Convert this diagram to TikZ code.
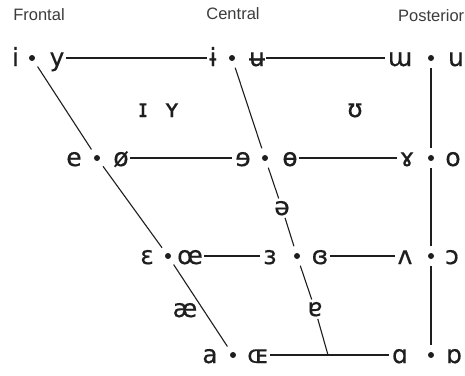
\documentclass[tikz,border=0pt]{standalone}
\usepackage{fontspec}
\newfontfamily\ipafont[FakeBold=0.5]{DejaVu Sans}
\newfontfamily\labfont{Liberation Sans}
\definecolor{ink}{HTML}{1E1E1E}
\definecolor{labgray}{HTML}{3C3C3C}
\begin{document}
\begin{tikzpicture}[x=1pt,y=-1pt,
  ipa/.style={font=\ipafont\fontsize{25}{29}\selectfont, text=ink, inner sep=0pt, outer sep=0pt, anchor=base},
  mid/.style={ipa, inner sep=2.5pt},
  dotnode/.style={circle, fill=ink, inner sep=0pt, minimum size=6pt},
  lab/.style={font=\labfont\fontsize{16.5}{19}\selectfont, text=labgray, inner sep=0pt, anchor=base},
  ln/.style={draw=ink, line width=1.1pt},
  seg/.style={ln, shorten <=7pt, shorten >=7pt},
  hseg/.style={ln, shorten <=1.5pt, shorten >=3pt}]
\useasboundingbox (0,0) rectangle (465,375);
\fill[white] (0,0) rectangle (465,375);
% column labels
\node[lab] (lf) at (39,20) {Frontal};
\node[lab] (lc) at (233,19) {Central};
\node[lab, anchor=base west] (lp) at (398,21) {Posterior};
% row 1
\node[ipa] (i1) at (15.5,66) {i};
\node[dotnode] (b11) at (32,58) {};
\node[ipa] (y1) at (57,66) {y};
\node[ipa] (ib) at (213,66) {ɨ};
\node[dotnode] (b12) at (232,58) {};
\node[ipa] (ub) at (257,66) {ʉ};
\node[ipa] (mw) at (400,66) {ɯ};
\node[dotnode] (b13) at (431,58) {};
\node[ipa] (u1) at (456,66) {u};
% near-close
\node[ipa] (ic) at (143,117) {ɪ};
\node[ipa] (yc) at (172,117) {ʏ};
\node[ipa] (uh) at (355,117) {ʊ};
% row 2
\node[ipa] (e2) at (74,166) {e};
\node[dotnode] (b21) at (97,158) {};
\node[ipa] (oe2) at (121,166) {ø};
\node[ipa] (er) at (243,166) {ɘ};
\node[dotnode] (b22) at (265,158) {};
\node[ipa] (ob) at (290,166) {ɵ};
\node[ipa] (rg) at (407,166) {ɤ};
\node[dotnode] (b23) at (431,158) {};
\node[ipa] (o2) at (453,166) {o};
% schwa
\node[mid] (sw) at (282,215) {ə};
% row 3
\node[ipa] (eps) at (147,264) {ɛ};
\node[dotnode] (b31) at (168,256) {};
\node[ipa] (oel) at (190,264) {œ};
\node[ipa] (re) at (270,264) {ɜ};
\node[dotnode] (b32) at (297,256) {};
\node[ipa] (ce) at (320,264) {ɞ};
\node[ipa] (wv) at (405,264) {ʌ};
\node[dotnode] (b33) at (431,256) {};
\node[ipa] (oo) at (452,264) {ɔ};
% near-open
\node[ipa] (ae) at (185,317) {æ};
\node[mid] (ta) at (315,316) {ɐ};
% row 4
\node[ipa] (a4) at (210,363) {a};
\node[dotnode] (b41) at (233,355) {};
\node[ipa] (oa) at (258,363) {ɶ};
\node[ipa] (sa) at (400,363) {ɑ};
\node[dotnode] (b43) at (431,355) {};
\node[ipa] (ta4) at (454,363) {ɒ};
\coordinate (jc) at (328,355);
% horizontal lines
\draw[hseg] (y1.east |- b11) -- (ib.west |- b12);
\draw[hseg] (ub.east |- b12) -- (mw.west |- b13);
\draw[hseg] (oe2.east |- b21) -- (er.west |- b22);
\draw[hseg] (ob.east |- b22) -- (rg.west |- b23);
\draw[hseg] (oel.east |- b31) -- (re.west |- b32);
\draw[hseg] (ce.east |- b32) -- (wv.west |- b33);
\draw[hseg] (oa.east |- b41) -- (sa.west |- b43);
% front diagonal
\draw[seg] (b11) -- (b21);
\draw[seg] (b21) -- (b31);
\draw[seg] (b31) -- (b41);
% central line
\draw[seg] (b12) -- (b22);
\draw[seg, shorten >=0pt] (b22) -- (sw);
\draw[seg, shorten <=0pt] (sw) -- (b32);
\draw[seg, shorten >=0pt] (b32) -- (ta);
\draw[ln] (ta) -- (jc);
% back line
\draw[seg] (b13) -- (b23);
\draw[seg] (b23) -- (b33);
\draw[seg] (b33) -- (b43);
\end{tikzpicture}
\end{document}
